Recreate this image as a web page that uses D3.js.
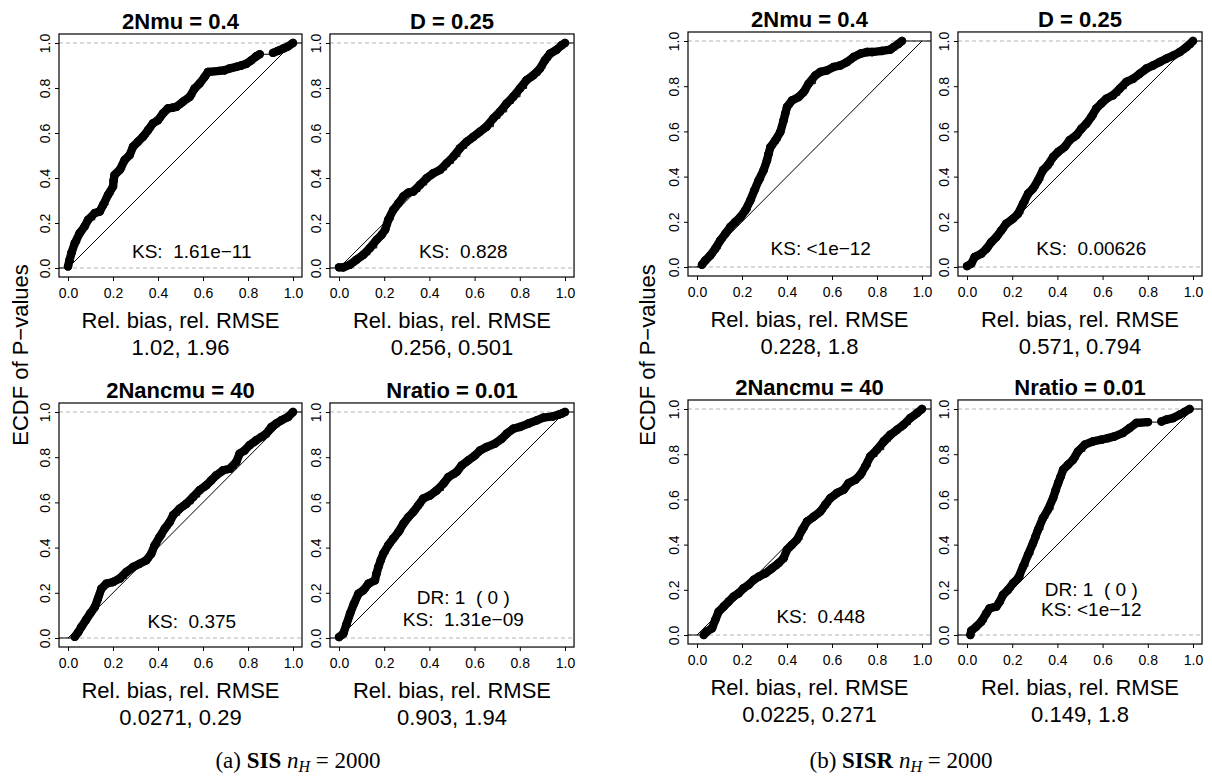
<!DOCTYPE html>
<html>
<head>
<meta charset="utf-8">
<script src="https://cdn.jsdelivr.net/npm/d3@7"></script>
<style>
body { margin: 0; background: #fff; }
text { font-family: "Liberation Sans", Arial, Helvetica, sans-serif; fill: #000; white-space: pre; }
</style>
</head>
<body>
<div id="chart"></div>
<script>
// panel titles, shared by both figures
const titles = ["2Nmu = 0.4", "D = 0.25", "2Nancmu = 40", "Nratio = 0.01"]
const ticks = [0, 0.2, 0.4, 0.6, 0.8, 1.0]

const sisStats = ["1.02, 1.96", "0.256, 0.501", "0.0271, 0.29", "0.903, 1.94"]
const sisKS = ["KS:  1.61e\u221211", "KS:  0.828", "KS:  0.375", "KS:  1.31e\u221209"]
const sisDR = [null, null, null, "DR: 1  ( 0 )"]

const sisrStats = ["0.228, 1.8", "0.571, 0.794", "0.0225, 0.271", "0.149, 1.8"]
const sisrKS = ["KS: <1e\u221212", "KS:  0.00626", "KS:  0.448", "KS: <1e\u221212"]
const sisrDR = [null, null, null, "DR: 1  ( 0 )"]

// ECDF points [p-value, ecdf]
const sisNmu = [[0,0.007],[0.007,0.035],[0.015,0.066],[0.03,0.11],[0.052,0.155],[0.074,0.185],[0.089,0.214],[0.119,0.244],[0.141,0.251],[0.156,0.28],[0.178,0.325],[0.2,0.362],[0.203,0.39],[0.207,0.414],[0.23,0.436],[0.252,0.48],[0.274,0.502],[0.289,0.539],[0.311,0.561],[0.333,0.583],[0.356,0.613],[0.378,0.643],[0.4,0.657],[0.422,0.687],[0.444,0.709],[0.463,0.712],[0.481,0.716],[0.511,0.739],[0.541,0.761],[0.563,0.798],[0.585,0.82],[0.607,0.849],[0.622,0.871],[0.674,0.876],[0.696,0.879],[0.716,0.886],[0.748,0.894],[0.77,0.9],[0.793,0.908],[0.815,0.923],[0.837,0.941],[0.852,0.95],[0.911,0.956],[0.933,0.965],[0.956,0.975],[0.978,0.985],[1,1]]
const sisD = [[0,0.003],[0.019,0.003],[0.049,0.015],[0.078,0.037],[0.108,0.059],[0.137,0.089],[0.167,0.126],[0.189,0.148],[0.204,0.17],[0.218,0.214],[0.24,0.258],[0.263,0.288],[0.285,0.318],[0.307,0.335],[0.329,0.34],[0.358,0.369],[0.388,0.399],[0.417,0.421],[0.447,0.436],[0.476,0.465],[0.506,0.495],[0.535,0.532],[0.565,0.561],[0.594,0.583],[0.624,0.606],[0.653,0.628],[0.683,0.665],[0.712,0.694],[0.742,0.731],[0.771,0.761],[0.801,0.798],[0.83,0.835],[0.86,0.857],[0.889,0.886],[0.911,0.923],[0.934,0.953],[0.963,0.97],[0.985,0.99],[1,1]]
const sisNanc = [[0.03,0.005],[0.045,0.025],[0.06,0.05],[0.08,0.08],[0.1,0.11],[0.119,0.137],[0.133,0.174],[0.148,0.218],[0.17,0.24],[0.2,0.248],[0.23,0.263],[0.259,0.292],[0.289,0.314],[0.319,0.329],[0.348,0.344],[0.37,0.373],[0.385,0.41],[0.407,0.447],[0.43,0.484],[0.452,0.513],[0.467,0.543],[0.496,0.572],[0.526,0.594],[0.556,0.624],[0.585,0.654],[0.615,0.676],[0.637,0.698],[0.659,0.72],[0.689,0.742],[0.719,0.749],[0.748,0.779],[0.763,0.816],[0.785,0.83],[0.807,0.853],[0.837,0.875],[0.859,0.889],[0.881,0.904],[0.904,0.934],[0.926,0.949],[0.948,0.963],[0.978,0.978],[1,1]]
const sisNratio = [[0,0.004],[0.019,0.019],[0.034,0.063],[0.049,0.108],[0.066,0.152],[0.086,0.196],[0.108,0.211],[0.13,0.24],[0.159,0.255],[0.166,0.285],[0.174,0.314],[0.185,0.345],[0.196,0.373],[0.218,0.41],[0.24,0.44],[0.263,0.469],[0.285,0.506],[0.307,0.535],[0.329,0.558],[0.351,0.587],[0.373,0.617],[0.403,0.631],[0.432,0.653],[0.462,0.683],[0.484,0.712],[0.521,0.735],[0.543,0.764],[0.572,0.786],[0.602,0.808],[0.624,0.83],[0.653,0.845],[0.69,0.86],[0.72,0.882],[0.742,0.904],[0.771,0.926],[0.801,0.934],[0.838,0.949],[0.875,0.963],[0.904,0.975],[0.948,0.981],[0.971,0.988],[0.985,0.993],[1,1]]

const sisrNmu = [[0.022,0.01],[0.037,0.029],[0.059,0.051],[0.081,0.081],[0.104,0.118],[0.126,0.147],[0.148,0.177],[0.17,0.199],[0.193,0.221],[0.215,0.251],[0.237,0.295],[0.255,0.339],[0.274,0.383],[0.296,0.428],[0.311,0.472],[0.318,0.5],[0.326,0.53],[0.348,0.56],[0.37,0.597],[0.385,0.649],[0.392,0.678],[0.4,0.708],[0.422,0.737],[0.452,0.752],[0.474,0.774],[0.496,0.811],[0.526,0.848],[0.548,0.863],[0.578,0.87],[0.607,0.885],[0.637,0.892],[0.667,0.907],[0.696,0.929],[0.726,0.944],[0.756,0.951],[0.778,0.951],[0.822,0.956],[0.859,0.962],[0.874,0.973],[0.896,0.988],[0.911,1]]
const sisrD = [[0,0.004],[0.019,0.015],[0.034,0.044],[0.063,0.059],[0.086,0.081],[0.108,0.111],[0.13,0.133],[0.152,0.162],[0.174,0.192],[0.204,0.214],[0.226,0.236],[0.248,0.28],[0.27,0.324],[0.292,0.347],[0.314,0.383],[0.336,0.428],[0.358,0.451],[0.381,0.487],[0.403,0.509],[0.432,0.531],[0.454,0.561],[0.484,0.583],[0.506,0.612],[0.528,0.634],[0.55,0.664],[0.572,0.701],[0.594,0.723],[0.617,0.745],[0.646,0.76],[0.676,0.789],[0.705,0.819],[0.735,0.833],[0.764,0.855],[0.794,0.878],[0.823,0.892],[0.853,0.907],[0.882,0.922],[0.912,0.935],[0.941,0.951],[0.971,0.973],[1,1]]
const sisrNanc = [[0.03,0],[0.044,0.015],[0.067,0.03],[0.081,0.066],[0.096,0.103],[0.119,0.126],[0.141,0.148],[0.163,0.17],[0.185,0.185],[0.207,0.207],[0.23,0.222],[0.252,0.244],[0.274,0.258],[0.304,0.273],[0.333,0.295],[0.363,0.318],[0.385,0.34],[0.4,0.377],[0.422,0.399],[0.444,0.421],[0.467,0.465],[0.489,0.502],[0.519,0.524],[0.548,0.546],[0.57,0.576],[0.593,0.606],[0.622,0.628],[0.652,0.643],[0.674,0.672],[0.704,0.687],[0.726,0.709],[0.748,0.746],[0.77,0.79],[0.8,0.82],[0.83,0.857],[0.859,0.886],[0.889,0.908],[0.919,0.931],[0.948,0.96],[0.978,0.982],[1,1]]
const sisrNratio = [[0.015,0],[0.019,0.019],[0.041,0.037],[0.063,0.059],[0.086,0.096],[0.1,0.118],[0.13,0.126],[0.145,0.148],[0.159,0.177],[0.181,0.199],[0.204,0.229],[0.226,0.251],[0.248,0.303],[0.27,0.355],[0.292,0.406],[0.303,0.435],[0.314,0.465],[0.336,0.517],[0.358,0.554],[0.381,0.606],[0.392,0.64],[0.403,0.672],[0.414,0.7],[0.425,0.731],[0.447,0.753],[0.469,0.775],[0.491,0.812],[0.521,0.842],[0.558,0.857],[0.594,0.864],[0.624,0.871],[0.653,0.879],[0.69,0.894],[0.72,0.916],[0.749,0.938],[0.801,0.942],[0.86,0.945],[0.882,0.953],[0.912,0.96],[0.941,0.975],[0.963,0.987],[0.985,1]]

const width = 1212
const height = 780

const svg = d3.select("#chart").append("svg")
    .attr("width", width)
    .attr("height", height)

svg.append("rect").attr("width", width).attr("height", height).attr("fill", "#fff")

const figures = [
    { cols: [[68, 293], [339, 565]], rows: [[268, 43], [638, 412]],
      series: [sisNmu, sisD, sisNanc, sisNratio], stats: sisStats, ks: sisKS, dr: sisDR,
      ksY: 0.07, ksDrY: 0.08, drY: 0.178, ylabX: 20, capX: 298, tag: "(a) ", method: "SIS" },
    { cols: [[697, 922], [967, 1193]], rows: [[267, 41], [635, 409]],
      series: [sisrNmu, sisrD, sisrNanc, sisrNratio], stats: sisrStats, ks: sisrKS, dr: sisrDR,
      ksY: 0.08, ksDrY: 0.11, drY: 0.2, ylabX: 647, capX: 901, tag: "(b) ", method: "SISR" }
]

figures.forEach(f => {
    titles.forEach((t, i) => {
        const x = d3.scaleLinear().domain([0, 1]).range(f.cols[i % 2])
        const y = d3.scaleLinear().domain([0, 1]).range(f.rows[Math.floor(i / 2)])
        drawPanel(x, y, f.series[i], t, f.stats[i], f.ks[i], f.dr[i], f)
    })

    svg.append("text")
        .attr("transform", `translate(${f.ylabX + 8},355) rotate(-90)`)
        .attr("text-anchor", "middle")
        .attr("font-size", 22)
        .text("ECDF of P\u2212values")

    const cap = svg.append("text")
        .attr("x", f.capX)
        .attr("y", 768)
        .attr("text-anchor", "middle")
        .attr("font-size", 23)
        .style("font-family", "'Liberation Serif', 'Times New Roman', serif")
    cap.append("tspan").text(f.tag)
    cap.append("tspan").attr("font-weight", "bold").text(f.method)
    cap.append("tspan").text(" ")
    cap.append("tspan").attr("font-style", "italic").text("n")
    cap.append("tspan").attr("font-style", "italic").attr("font-size", 16).attr("dy", 4).text("H")
    cap.append("tspan").attr("dy", -4).text(" = 2000")
})

function drawPanel(x, y, data, title, stat, ks, dr, f) {
    const ext = (x(1) - x(0)) * 0.04
    const left = x(0) - ext, right = x(1) + ext
    const top = y(1) - ext, bottom = y(0) + ext
    const g = svg.append("g")

    // grey reference lines at 0 and 1
    g.selectAll(".ref")
        .data([0, 1])
        .enter()
        .append("line")
        .attr("x1", left).attr("x2", right)
        .attr("y1", d => y(d)).attr("y2", d => y(d))
        .attr("stroke", "#b4b4b4")
        .attr("stroke-dasharray", "4,3")

    g.append("line")
        .attr("x1", x(0)).attr("y1", y(0))
        .attr("x2", x(1)).attr("y2", y(1))
        .attr("stroke", "#000")
        .attr("stroke-width", 1)

    // ecdf step line
    const steps = [[x.invert(left), 0], ...data, [x.invert(right), 1]]
    g.append("path")
        .datum(steps)
        .attr("d", d3.line().x(d => x(d[0])).y(d => y(d[1])).curve(d3.curveStepAfter))
        .attr("fill", "none")
        .attr("stroke", "#000")
        .attr("stroke-width", 1)

    // dense runs of points merge into a thick band
    const near = d3.pairs(data).filter(([a, b]) => Math.hypot(x(b[0]) - x(a[0]), y(b[1]) - y(a[1])) < 13)
    g.selectAll(".seg")
        .data(near)
        .enter()
        .append("line")
        .attr("x1", d => x(d[0][0])).attr("y1", d => y(d[0][1]))
        .attr("x2", d => x(d[1][0])).attr("y2", d => y(d[1][1]))
        .attr("stroke", "#000")
        .attr("stroke-width", 8.4)
        .attr("stroke-linecap", "round")

    g.selectAll("circle")
        .data(data)
        .enter()
        .append("circle")
        .attr("cx", d => x(d[0]))
        .attr("cy", d => y(d[1]))
        .attr("r", 4.2)
        .attr("fill", "#000")

    g.append("rect")
        .attr("x", left).attr("y", top)
        .attr("width", right - left).attr("height", bottom - top)
        .attr("fill", "none")
        .attr("stroke", "#000")
        .attr("stroke-width", 1.2)

    g.append("g")
        .attr("transform", `translate(0,${bottom})`)
        .call(d3.axisBottom(x).tickValues(ticks).tickFormat(d3.format(".1f")).tickSize(4).tickSizeOuter(0))
        .attr("font-size", 14)
        .attr("font-family", null)
        .call(a => {
            a.select(".domain").remove()
            a.selectAll("text").attr("y", 21).attr("dy", null)
        })

    g.append("g")
        .attr("transform", `translate(${left},0)`)
        .call(d3.axisLeft(y).tickValues(ticks).tickFormat(d3.format(".1f")).tickSize(4).tickSizeOuter(0))
        .attr("font-size", 14)
        .attr("font-family", null)
        .call(a => {
            a.select(".domain").remove()
            a.selectAll("text")
                .attr("x", null).attr("dy", null)
                .attr("text-anchor", "middle")
                .attr("transform", "translate(-9,0) rotate(-90)")
        })

    const cx = (left + right) / 2
    g.append("text")
        .attr("x", cx).attr("y", top - 5)
        .attr("text-anchor", "middle")
        .attr("font-weight", "bold")
        .attr("font-size", 22)
        .text(title)

    g.append("text")
        .attr("x", cx).attr("y", bottom + 51)
        .attr("text-anchor", "middle")
        .attr("font-size", 22)
        .text("Rel. bias, rel. RMSE")

    g.append("text")
        .attr("x", cx).attr("y", bottom + 78)
        .attr("text-anchor", "middle")
        .attr("font-size", 22)
        .text(stat)

    g.append("text")
        .attr("x", x(0.55)).attr("y", y(dr ? f.ksDrY : f.ksY) + 6)
        .attr("text-anchor", "middle")
        .attr("font-size", 19)
        .text(ks)

    if (dr) {
        g.append("text")
            .attr("x", x(0.55)).attr("y", y(f.drY) + 6)
            .attr("text-anchor", "middle")
            .attr("font-size", 19)
            .text(dr)
    }
}
</script>
</body>
</html>
